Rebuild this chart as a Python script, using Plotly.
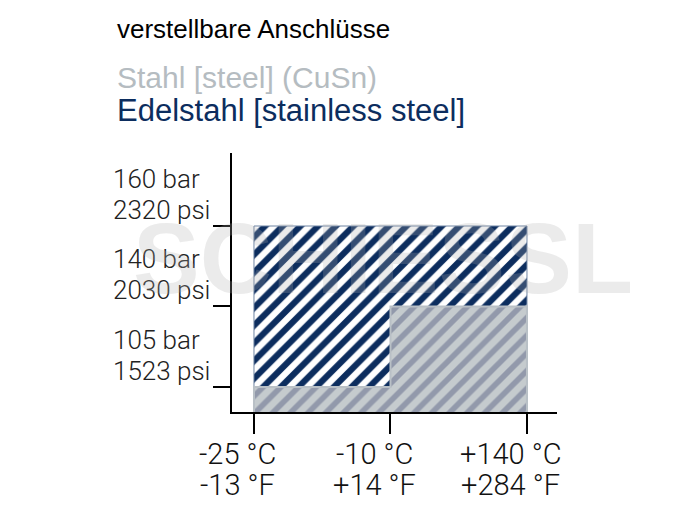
import plotly.graph_objects as go

# ---- data ----
temps_c = ["-25 °C", "-10 °C", "+140 °C"]
temps_f = ["-13 °F", "+14 °F", "+284 °F"]
press_bar = ["105 bar", "140 bar", "160 bar"]
press_psi = ["1523 psi", "2030 psi", "2320 psi"]

# pressure limit per temperature segment (-25..-10, -10..+140)
steel_limit = ["105 bar", "140 bar"]
stainless_limit = ["160 bar", "160 bar"]

title = "verstellbare Anschlüsse"
series_names = ["Stahl [steel] (CuSn)", "Edelstahl [stainless steel]"]

NAVY = "#0c2d5e"
GRAY_TXT = "#b5bcc1"
LABEL_FONT = "Roboto, Liberation Sans, Arial, sans-serif"

# ordinal scales
xi = {t: i for i, t in enumerate(temps_c)}
yi = {p: i + 1 for i, p in enumerate(press_bar)}


def step_polygon(limits):
    xs, ys = [xi[temps_c[0]]], [0]
    for k, lim in enumerate(limits):
        x0, x1 = xi[temps_c[k]], xi[temps_c[k + 1]]
        xs += [x0, x1]
        ys += [yi[lim], yi[lim]]
    xs += [xi[temps_c[-1]], xs[0]]
    ys += [0, 0]
    return xs, ys


fig = go.Figure()

sx, sy = step_polygon(stainless_limit)
fig.add_trace(go.Scatter(
    x=sx, y=sy, mode="lines", fill="toself", name=series_names[1],
    line=dict(color="#6f84a3", width=1),
    fillcolor="white",
    fillpattern=dict(shape="/", fgcolor=NAVY, bgcolor="white", fgopacity=1,
                     size=12.5, solidity=0.5),
    hoverinfo="skip", showlegend=False,
))

gx, gy = step_polygon(steel_limit)
fig.add_trace(go.Scatter(
    x=gx, y=gy, mode="lines", fill="toself", name=series_names[0],
    line=dict(color="#b9c0c6", width=2),
    fillcolor="#c5cbce",
    fillpattern=dict(shape="/", fgcolor="#9299ab", bgcolor="#c5cbce", fgopacity=1,
                     size=12.5, solidity=0.45),
    hoverinfo="skip", showlegend=False,
))

L, R, T, B = 232, 128, 153, 102
fig.update_layout(
    width=685, height=514,
    margin=dict(l=L, r=R, t=T, b=B, pad=0, autoexpand=False),
    paper_bgcolor="white", plot_bgcolor="white",
    font=dict(family="Liberation Sans, Arial, sans-serif", color="#111111"),
    showlegend=False,
)

fig.update_xaxes(
    range=[-0.161, 2.22],
    automargin=False,
    tickmode="array",
    tickvals=[xi[t] for t in temps_c],
    showticklabels=False,
    ticks="outside", ticklen=20, tickwidth=2, tickcolor="black",
    showline=True, linewidth=2, linecolor="black",
    showgrid=False, zeroline=False,
)
fig.update_yaxes(
    range=[0.689, 3.907],
    automargin=False,
    tickmode="array",
    tickvals=[yi[p] for p in press_bar],
    showticklabels=False,
    ticks="outside", ticklen=17, tickwidth=2, tickcolor="black",
    showline=True, linewidth=2, linecolor="black",
    showgrid=False, zeroline=False,
)

def px_to_paper_x(px):
    return (px - L) / (685 - L - R)

def px_to_paper_y(py):
    return (514 - B - py) / (514 - T - B)

yfont = dict(size=26, color="#222222", family=LABEL_FONT, weight=300)
xfont = dict(size=29, color="#111111", family=LABEL_FONT, weight=300)

# y-axis labels (left aligned, sitting above their ticks)
for b, p in zip(press_bar, press_psi):
    for txt, dy in ((b, 31), (p, 0)):
        fig.add_annotation(text=txt, xref="paper", yref="y",
                           x=px_to_paper_x(112), y=yi[b], xanchor="left", yanchor="bottom",
                           yshift=dy, align="left", showarrow=False, borderpad=0,
                           font=yfont)

# x-axis labels (two lines under each tick)
for c, f in zip(temps_c, temps_f):
    for txt, dy in ((c, -24), (f, -55)):
        fig.add_annotation(text=txt, xref="x", yref="paper",
                           x=xi[c], y=0, xanchor="center", yanchor="top",
                           xshift=-16, yshift=dy, showarrow=False, borderpad=0,
                           font=xfont)

fig.add_annotation(text=title, xref="paper", yref="paper",
                   x=px_to_paper_x(115), y=px_to_paper_y(29), xanchor="left", yanchor="middle",
                   showarrow=False, font=dict(size=26, color="black"))
fig.add_annotation(text=series_names[0], xref="paper", yref="paper",
                   x=px_to_paper_x(115), y=px_to_paper_y(78), xanchor="left", yanchor="middle",
                   showarrow=False, font=dict(size=30, color=GRAY_TXT))
fig.add_annotation(text=series_names[1], xref="paper", yref="paper",
                   x=px_to_paper_x(115), y=px_to_paper_y(110), xanchor="left", yanchor="middle",
                   showarrow=False, font=dict(size=31, color=NAVY))

# watermark
fig.add_annotation(text="<b>SCHIESSL</b>", xref="paper", yref="paper",
                   x=px_to_paper_x(383), y=px_to_paper_y(258), xanchor="center", yanchor="middle",
                   showarrow=False,
                   font=dict(size=100, color="rgba(175,175,175,0.25)",
                             family="Liberation Sans, sans-serif"))

fig.write_html("out.html", config={"displayModeBar": False},
               post_script="document.body.style.margin='0px';")
